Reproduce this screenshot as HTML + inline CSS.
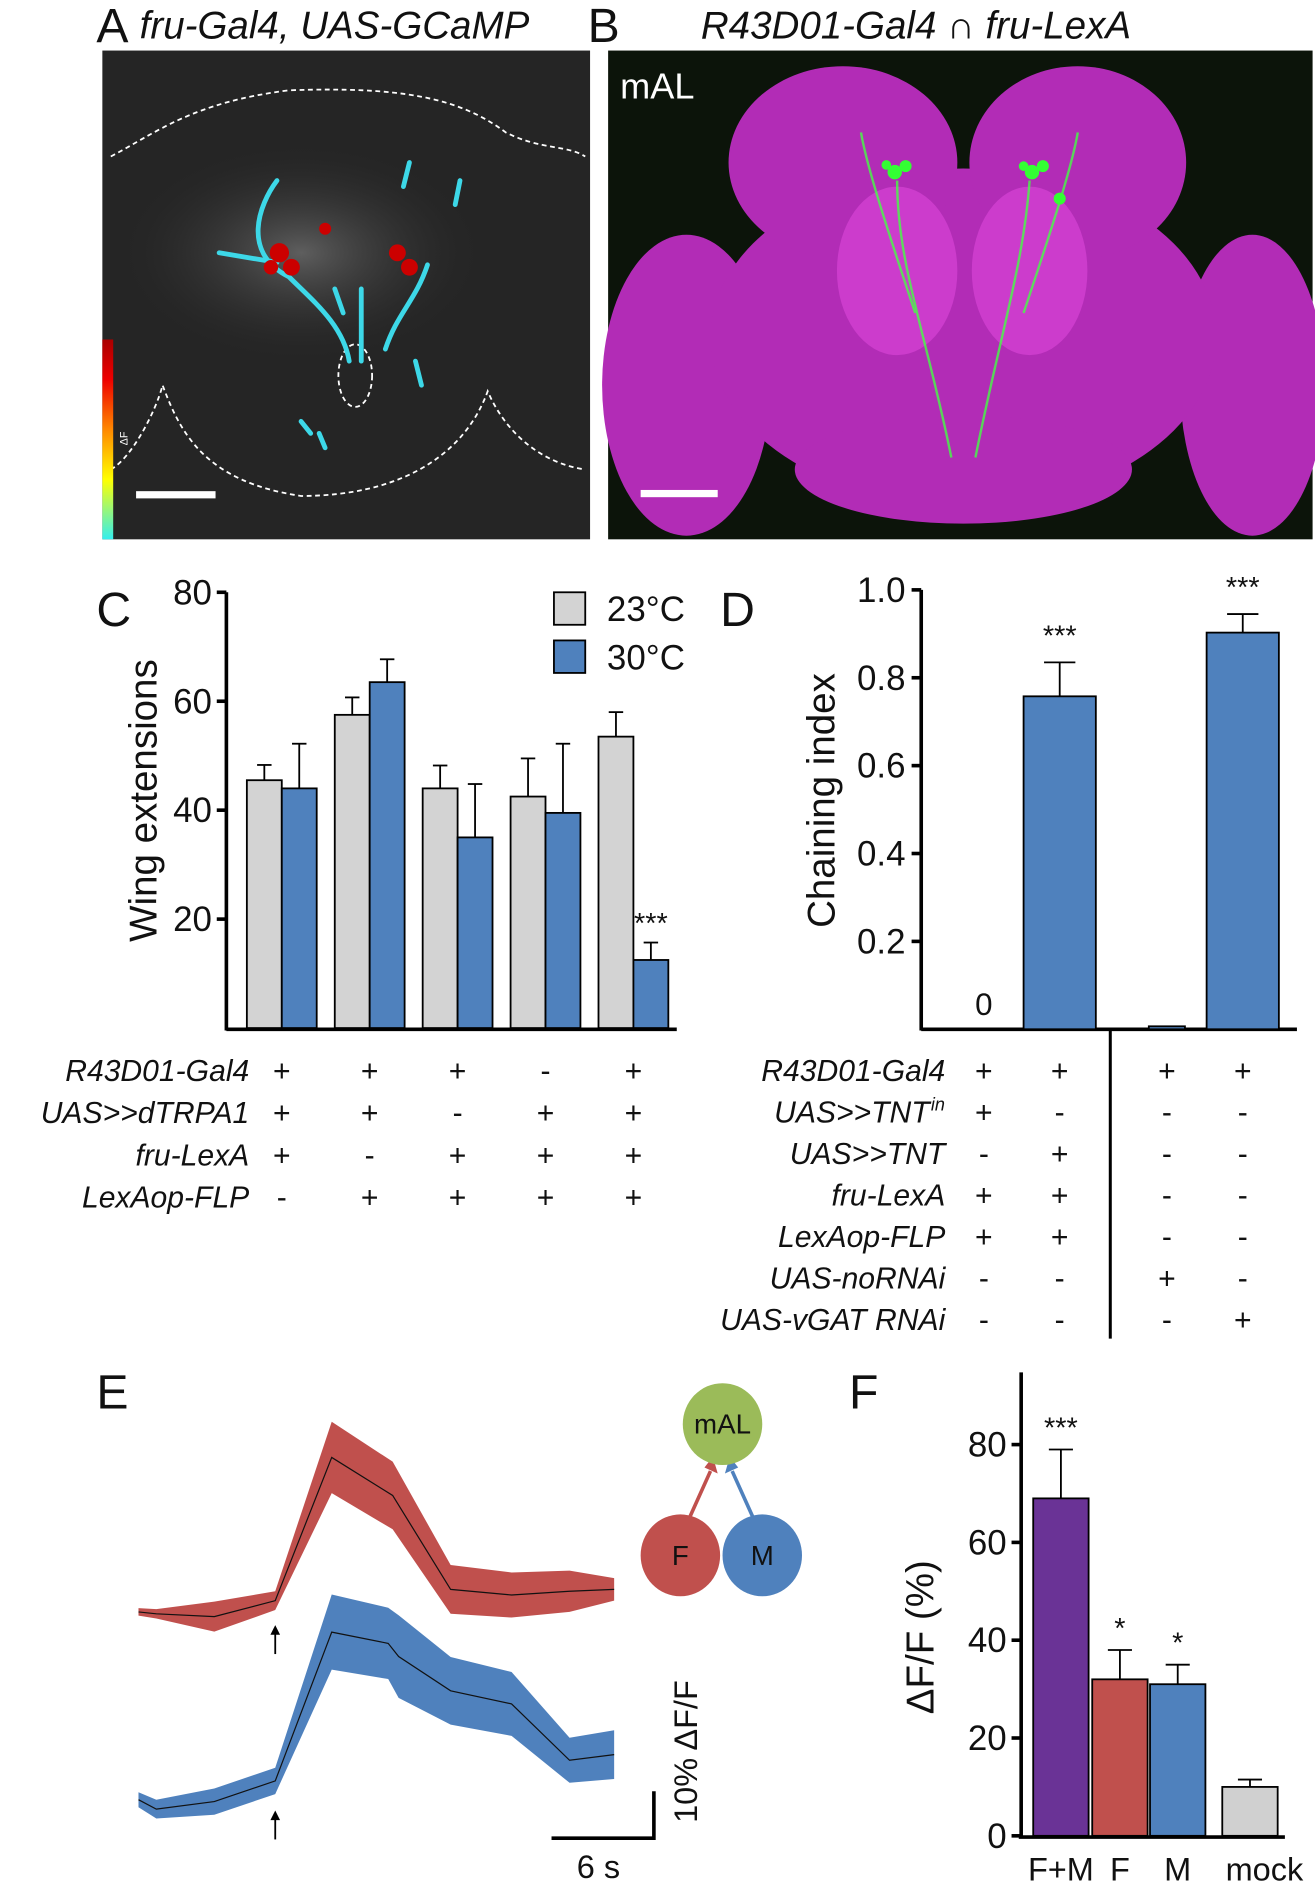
<!DOCTYPE html>
<html><head><meta charset="utf-8"><style>
html,body{margin:0;padding:0;background:#fff}
svg{display:block}
text{font-family:"Liberation Sans Narrow","Liberation Sans",sans-serif;fill:#111}
.it{font-style:italic}
</style></head><body>
<svg id="fig" width="1315" height="1890" viewBox="0 0 1092 1570" preserveAspectRatio="none" xmlns="http://www.w3.org/2000/svg">
<defs>
<linearGradient id="cbar" x1="0" y1="1" x2="0" y2="0"><stop offset="0" stop-color="#3ee"/><stop offset="0.3" stop-color="#ff0"/><stop offset="0.55" stop-color="#f80"/><stop offset="0.8" stop-color="#e00"/><stop offset="1" stop-color="#a00"/></linearGradient>
<radialGradient id="glow" cx="0.5" cy="0.5" r="0.5"><stop offset="0" stop-color="#777"/><stop offset="1" stop-color="#2a2a2a" stop-opacity="0"/></radialGradient>
</defs>

<!-- Panel A -->
<g>
<text x="80" y="35" font-size="40">A</text>
<text x="116" y="32" font-size="32" class="it">fru-Gal4, UAS-GCaMP</text>
<rect x="85" y="42" width="405" height="406" fill="#252525"/>
<ellipse cx="250" cy="210" rx="150" ry="90" fill="url(#glow)" opacity="0.7"/>
<path d="M92,130 C130,110 160,85 240,75 C330,72 380,80 420,110 C450,125 470,120 486,130" fill="none" stroke="#fff" stroke-width="1.5" stroke-dasharray="4,3"/>
<path d="M92,390 C110,380 130,340 135,320 C150,360 170,400 250,412 C330,412 385,380 405,325 C420,360 450,385 486,390" fill="none" stroke="#fff" stroke-width="1.5" stroke-dasharray="4,3"/>
<ellipse cx="295" cy="312" rx="14" ry="26" fill="none" stroke="#fff" stroke-width="1.5" stroke-dasharray="4,3"/>
<g stroke="#3dd8e8" stroke-width="4" fill="none" stroke-linecap="round">
<path d="M230,150 C215,170 200,210 240,230 C260,250 285,270 290,300"/>
<path d="M355,220 C345,250 330,260 320,290"/>
<path d="M300,240 L300,300"/><path d="M340,135 L335,155"/><path d="M182,210 L230,218"/>
<path d="M250,350 L258,360"/><path d="M265,360 L270,372"/><path d="M345,300 L350,320"/>
<path d="M382,150 L378,170"/><path d="M278,240 L285,260"/>
</g>
<g fill="#c00"><circle cx="232" cy="210" r="8"/><circle cx="242" cy="222" r="7"/><circle cx="225" cy="222" r="6"/><circle cx="330" cy="210" r="7"/><circle cx="340" cy="222" r="7"/><circle cx="270" cy="190" r="5"/></g>
<rect x="85" y="282" width="9" height="166" fill="url(#cbar)"/>
<text x="0" y="0" font-size="9" transform="translate(106,370) rotate(-90)" style="fill:#fff">ΔF</text>
<rect x="113" y="408" width="66" height="6" fill="#fff"/>
</g>

<!-- Panel B -->
<g>
<text x="488" y="35" font-size="40">B</text>
<text x="582" y="32" font-size="32" class="it">R43D01-Gal4 ∩ fru-LexA</text>
<rect x="505" y="42" width="585" height="406" fill="#0c140a"/>
<g fill="#b22cb6">
<ellipse cx="570" cy="320" rx="70" ry="125"/><ellipse cx="1040" cy="320" rx="60" ry="125"/>
<ellipse cx="800" cy="280" rx="210" ry="140"/>
<ellipse cx="700" cy="135" rx="95" ry="80"/><ellipse cx="895" cy="135" rx="90" ry="80"/>
<ellipse cx="800" cy="390" rx="140" ry="45"/>
</g>
<g fill="#cc3ccc"><ellipse cx="745" cy="225" rx="50" ry="70"/><ellipse cx="855" cy="225" rx="48" ry="70"/></g>
<g stroke="#4f4" stroke-width="2" fill="none" opacity="0.8"><path d="M745,150 C745,220 770,280 790,380"/><path d="M855,150 C850,220 830,280 810,380"/><path d="M715,110 C720,140 740,200 760,260"/><path d="M895,110 C890,140 870,200 850,260"/></g>
<g fill="#3f3"><circle cx="743" cy="143" r="6"/><circle cx="752" cy="138" r="5"/><circle cx="736" cy="137" r="4"/><circle cx="857" cy="143" r="6"/><circle cx="866" cy="138" r="5"/><circle cx="850" cy="138" r="4"/><circle cx="880" cy="165" r="5"/></g>
<text x="515" y="82" font-size="30" style="fill:#fff">mAL</text>
<rect x="532" y="407" width="64" height="6" fill="#fff"/>
</g>

<g id="panelC"></g>
<g id="panelD"></g>
<g id="panelE"></g>
<g id="panelF"></g>
</svg>
<script>
// ---- Panel C data ----
const cGroups = ['g1','g2','g3','g4','g5'];
const c23 = [45.5, 57.5, 44, 42.5, 53.5];
const c23err = [2.8, 3.2, 4.2, 7, 4.5];
const c30 = [44, 63.5, 35, 39.5, 12.5];
const c30err = [8.2, 4.2, 9.8, 12.7, 3.2];
const cTicks = [20, 40, 60, 80];
const cRows = ['R43D01-Gal4','UAS>>dTRPA1','fru-LexA','LexAop-FLP'];
const cSigns = [['+','+','+','-','+'],['+','+','-','+','+'],['+','-','+','+','+'],['-','+','+','+','+']];
// ---- Panel D data ----
const dVals = [0, 0.755, 0.004, 0.9];
const dErr = [0, 0.08, 0, 0.045];
const dTicks = [0.2, 0.4, 0.6, 0.8, 1.0];
const dRows = ['R43D01-Gal4','UAS>>TNT','UAS>>TNT','fru-LexA','LexAop-FLP','UAS-noRNAi','UAS-vGAT RNAi'];
const dSigns = [['+','+','+','+'],['+','-','-','-'],['-','+','-','-'],['+','+','-','-'],['+','+','-','-'],['-','-','+','-'],['-','-','-','+']];
// ---- Panel E data (time in s-units, values in % dF/F) ----
const eTimeF = [0, 1.2, 5.1, 9.2, 13, 17.1, 21, 25.1, 29, 32];
const eFem = [0, -0.4, -1, 2.4, 32.9, 24.8, 4.8, 3.6, 4.4, 4.8];
const eFemSd = [0.8, 1, 3.2, 2, 7.6, 7.2, 5.2, 4.8, 4.4, 2.4];
const eTimeM = [0, 1.2, 5.1, 9.2, 13, 16.8, 17.5, 21, 25.1, 29, 32];
const eMale = [0, -2, -0.4, 4, 35.7, 33.3, 30.5, 23.2, 20.4, 8.4, 9.6];
const eMaleSd = [1.6, 2, 2.8, 2.8, 8, 7.6, 8.8, 7.2, 6.8, 4.8, 5.2];
// ---- Panel F data ----
const fCats = ['F+M','F','M','mock'];
const fVals = [69, 32, 31, 10];
const fErr = [10, 6, 4, 1.5];
const fColors = ['#6a3396','#c0504d','#4f81bd','#d0d0d0'];
const fStars = ['***','*','*',''];
const fTicks = [0, 20, 40, 60, 80];

const NS='http://www.w3.org/2000/svg';
function mk(parent, tag, attrs, txt){const e=document.createElementNS(NS,tag);for(const k in attrs)e.setAttribute(k,attrs[k]);if(txt!==undefined)e.textContent=txt;parent.appendChild(e);return e;}

// Panel C
(function(){
const g=document.getElementById('panelC');
const y=v=>854-v*(854-492)/80;
const gx=i=>234+i*73;
const bw=29;
let t=mk(g,'text',{x:80,y:520,'font-size':40});t.textContent='C';


let ax=mk(g,'path',{d:'M188,492 L188,856 M188,855 L562,855',stroke:'#000','stroke-width':3,fill:'none'});


cTicks.forEach(v=>{mk(g,'line',{x1:180,x2:188,y1:y(v),y2:y(v),stroke:'#000','stroke-width':3});
 const tt=mk(g,'text',{x:176,y:y(v)+10,'font-size':29,'text-anchor':'end'},v);
 
 });
const yt=mk(g,'text',{'font-size':32,'text-anchor':'middle',transform:'translate(130,665) rotate(-90)'},'Wing extensions');


cGroups.forEach((n,i)=>{
 [[c23,c23err,'#d3d3d3',-bw],[c30,c30err,'#4f81bd',0]].forEach(([v,e,col,off])=>{
  const x=gx(i)+off;
  mk(g,'line',{x1:x+bw/2,x2:x+bw/2,y1:y(v[i]),y2:y(v[i]+e[i]),stroke:'#000','stroke-width':1.5});
  mk(g,'line',{x1:x+bw/2-6,x2:x+bw/2+6,y1:y(v[i]+e[i]),y2:y(v[i]+e[i]),stroke:'#000','stroke-width':1.5});
  const r=mk(g,'rect',{x:x,y:y(v[i]),width:bw,height:854-y(v[i]),fill:col,stroke:'#000','stroke-width':1.5});
  
  
 });
});
mk(g,'text',{x:gx(4)+bw/2,y:y(c30[4]+c30err[4])-8,'font-size':24,'text-anchor':'middle'},'***');
[['#d3d3d3','23°C',492],['#4f81bd','30°C',532]].forEach(([c,l,yy])=>{
 const r=mk(g,'rect',{x:460,y:yy,width:26,height:27,fill:c,stroke:'#000','stroke-width':1.5});
 
 
 const tx=mk(g,'text',{x:504,y:yy+24,'font-size':29},l);
 
 
});
cRows.forEach((r,ri)=>{const ry=898+ri*35;
 const tx=mk(g,'text',{x:207,y:ry,'font-size':25,'text-anchor':'end',class:'it'},r);
 
 
 cSigns[ri].forEach((s,ci)=>mk(g,'text',{x:gx(ci),y:ry,'font-size':25,'text-anchor':'middle'},s));
});
})();

// Panel D
(function(){
const g=document.getElementById('panelD');
const y=v=>855-v*(855-490);
const xs=[817,880,969,1032];
const bw=[0,60,30,60];
let t=mk(g,'text',{x:598,y:520,'font-size':40},'D');


const ax=mk(g,'path',{d:'M765,490 L765,856 M765,855 L1077,855',stroke:'#000','stroke-width':3,fill:'none'});


dTicks.forEach(v=>{mk(g,'line',{x1:757,x2:765,y1:y(v),y2:y(v),stroke:'#000','stroke-width':3});
 const tt=mk(g,'text',{x:752,y:y(v)+10,'font-size':29,'text-anchor':'end'},v.toFixed(1));
 
 });
const yt=mk(g,'text',{'font-size':32,'text-anchor':'middle',transform:'translate(693,665) rotate(-90)'},'Chaining index');


dVals.forEach((v,i)=>{
 if(bw[i]===0) return;
 if(dErr[i]>0){mk(g,'line',{x1:xs[i],x2:xs[i],y1:y(v),y2:y(v+dErr[i]),stroke:'#000','stroke-width':1.5});
 mk(g,'line',{x1:xs[i]-13,x2:xs[i]+13,y1:y(v+dErr[i]),y2:y(v+dErr[i]),stroke:'#000','stroke-width':1.5});
 mk(g,'text',{x:xs[i],y:y(v+dErr[i])-14,'font-size':24,'text-anchor':'middle'},'***');}
 const r=mk(g,'rect',{x:xs[i]-bw[i]/2,y:y(v)-1,width:bw[i],height:855-y(v)+1,fill:'#4f81bd',stroke:'#000','stroke-width':1.5});
 
 
});
mk(g,'text',{x:xs[0],y:843,'font-size':26,'text-anchor':'middle'},'0');
mk(g,'line',{x1:922,x2:922,y1:855,y2:1112,stroke:'#000','stroke-width':2.5});
dRows.forEach((r,ri)=>{const ry=898+ri*34.5;
 const tx=mk(g,'text',{x:ri===1?772:785,y:ry,'font-size':25,'text-anchor':'end',class:'it'},r);
 
 
 if(ri===1) mk(g,'text',{x:773,y:ry-10,'font-size':15,class:'it'},'in');
 dSigns[ri].forEach((s,ci)=>mk(g,'text',{x:xs[ci],y:ry,'font-size':25,'text-anchor':'middle'},s));
});
})();

// Panel E
(function(){
const g=document.getElementById('panelE');
const x=t=>115+t*(510-115)/32;
const K=3.9;
const yr=v=>1339-v*K, yb=v=>1495-v*K;
let t=mk(g,'text',{x:80,y:1170,'font-size':40},'E');


function trace(times,mean,sd,ys,col,name){
 let up=times.map((tt,i)=>x(tt)+','+ys(mean[i]+sd[i])).join(' L');
 let dn=times.map((tt,i)=>x(tt)+','+ys(mean[i]-sd[i])).reverse().join(' L');
 const b=mk(g,'path',{d:'M'+up+' L'+dn+' Z',fill:col});
 
 
 const l=mk(g,'path',{d:'M'+times.map((tt,i)=>x(tt)+','+ys(mean[i])).join(' L'),fill:'none',stroke:'#111','stroke-width':1});
 
 
}
trace(eTimeF,eFem,eFemSd,yr,'#c0504d','female');
trace(eTimeM,eMale,eMaleSd,yb,'#4f81bd','male');
[[1350,1374],[1504,1528]].forEach(([a,b])=>{mk(g,'line',{x1:x(9.2),x2:x(9.2),y1:a+4,y2:b,stroke:'#000','stroke-width':1.5});
 mk(g,'path',{d:`M${x(9.2)-4},${a+8} L${x(9.2)},${a} L${x(9.2)+4},${a+8} Z`,fill:'#000'});});
const sb=mk(g,'path',{d:'M543,1488 L543,1527 L458,1527',fill:'none',stroke:'#000','stroke-width':3});


mk(g,'text',{'font-size':27,'text-anchor':'middle',transform:'translate(579,1455) rotate(-90)'},'10% ΔF/F');
mk(g,'text',{x:497,y:1560,'font-size':27,'text-anchor':'middle'},'6 s');
mk(g,'line',{x1:572,y1:1262,x2:590,y2:1222,stroke:'#c0504d','stroke-width':3});
mk(g,'path',{d:'M585,1219 L592,1210 L596,1224 Z',fill:'#c0504d'});
mk(g,'line',{x1:626,y1:1262,x2:608,y2:1222,stroke:'#4f81bd','stroke-width':3});
mk(g,'path',{d:'M613,1219 L606,1210 L602,1224 Z',fill:'#4f81bd'});
[[600,1183,'#9bbb59','mAL','mal-node'],[565,1292,'#c0504d','F','female-node'],[633,1292,'#4f81bd','M','male-node']].forEach(([cx,cy,c,l,n])=>{
 const e=mk(g,'ellipse',{cx:cx,cy:cy,rx:33,ry:34,fill:c});
 
 
 mk(g,'text',{x:cx,y:cy+8,'font-size':23,'text-anchor':'middle'},l);
});
})();

// Panel F
(function(){
const g=document.getElementById('panelF');
const y=v=>1525-v*(1525-1200)/80;
const xs=[881,930,978,1038];
const bw=46;
let t=mk(g,'text',{x:705,y:1170,'font-size':40},'F');


const ax=mk(g,'path',{d:'M848,1140 L848,1527 M846,1526 L1067,1526',stroke:'#000','stroke-width':3,fill:'none'});


fTicks.forEach(v=>{mk(g,'line',{x1:840,x2:848,y1:y(v),y2:y(v),stroke:'#000','stroke-width':3});
 const tt=mk(g,'text',{x:836,y:y(v)+10,'font-size':29,'text-anchor':'end'},v);
 
 });
const yt=mk(g,'text',{'font-size':32,'text-anchor':'middle',transform:'translate(775,1360) rotate(-90)'},'ΔF/F (%)');


fCats.forEach((c,i)=>{
 const v=fVals[i],e=fErr[i];
 mk(g,'line',{x1:xs[i],x2:xs[i],y1:y(v),y2:y(v+e),stroke:'#000','stroke-width':1.5});
 mk(g,'line',{x1:xs[i]-10,x2:xs[i]+10,y1:y(v+e),y2:y(v+e),stroke:'#000','stroke-width':1.5});
 const r=mk(g,'rect',{x:xs[i]-bw/2,y:y(v),width:bw,height:1525-y(v),fill:fColors[i],stroke:'#000','stroke-width':1.5});
 
 
 if(fStars[i]) mk(g,'text',{x:xs[i],y:y(v+e)-10,'font-size':24,'text-anchor':'middle'},fStars[i]);
 const lb=mk(g,'text',{x:xs[i]+(i===3?12:0),y:1562,'font-size':27,'text-anchor':'middle'},c);
 
 
});
})();
</script>
</body></html>
